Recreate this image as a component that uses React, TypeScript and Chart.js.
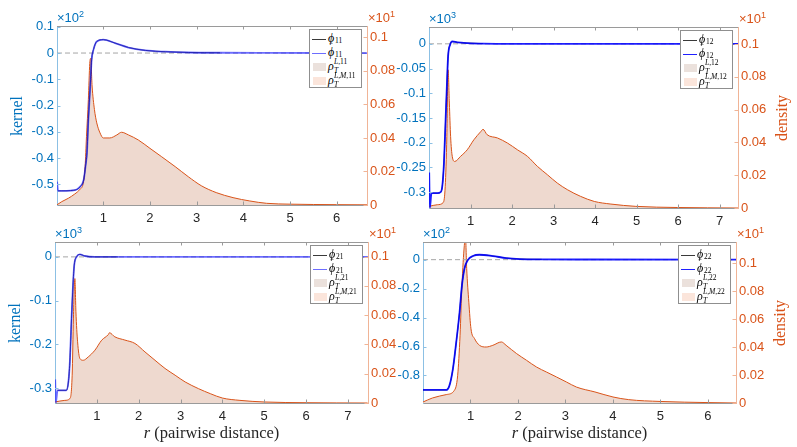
import React, { useEffect, useRef } from 'react';
import { Chart, registerables } from 'chart.js';

Chart.register(...registerables);

// ---------------- data ----------------
const xTicks11 = [1, 2, 3, 4, 5, 6];
const xTicks12 = [1, 2, 3, 4, 5, 6, 7];
const xTicks21 = [1, 2, 3, 4, 5, 6, 7];
const xTicks22 = [1, 2, 3, 4, 5, 6];
const yLTicks11 = [-0.5, -0.4, -0.3, -0.2, -0.1, 0, 0.1];
const yLTicks12 = [-0.3, -0.25, -0.2, -0.15, -0.1, -0.05, 0];
const yLTicks21 = [-0.3, -0.2, -0.1, 0];
const yLTicks22 = [-0.8, -0.6, -0.4, -0.2, 0];
const yRTicks = [0, 0.02, 0.04, 0.06, 0.08, 0.1];

// kernel phi_11 (x10^2)
const kR11 = [0.01, 0.03, 0.1, 0.3, 0.43, 0.5, 0.58, 0.62, 0.65, 0.68, 0.72, 0.75, 0.79, 0.86, 1.0, 1.25, 1.54, 1.9, 2.33, 2.83, 3.5, 4.5, 6.65];
const kV11 = [-0.49, -0.525, -0.525, -0.524, -0.52, -0.51, -0.483, -0.43, -0.38, -0.255, -0.127, -0.026, 0.013, 0.044, 0.051, 0.038, 0.021, 0.01, 0.005, 0.002, 0.001, 0.0005, 0];
// kernel phi_12 (x10^3)
const kR12 = [0.005, 0.02, 0.06, 0.2, 0.28, 0.32, 0.36, 0.4, 0.43, 0.46, 0.51, 0.56, 0.68, 0.92, 1.3, 2.0, 7.44];
const kV12 = [-0.26, -0.332, -0.302, -0.302, -0.3, -0.288, -0.241, -0.153, -0.086, -0.025, -0.0015, 0.0047, 0.003, 0.0015, 0.0005, 0, 0];
// kernel phi_21 (x10^3)
const kR21 = [0.005, 0.02, 0.06, 0.27, 0.32, 0.355, 0.395, 0.43, 0.46, 0.515, 0.595, 0.715, 0.95, 1.5, 7.47];
const kV21 = [-0.28, -0.334, -0.305, -0.305, -0.286, -0.24, -0.141, -0.065, -0.019, 0.0, 0.0055, 0.002, 0, 0, 0];
// kernel phi_22 (x10^2)
const kR22 = [0.0, 0.3, 0.49, 0.556, 0.63, 0.7, 0.77, 0.82, 0.873, 0.94, 1.05, 1.19, 1.47, 1.75, 2.04, 2.5, 3.5, 6.59];
const kV22 = [-0.9, -0.9, -0.9, -0.87, -0.754, -0.57, -0.363, -0.178, -0.062, -0.005, 0.025, 0.034, 0.025, 0.011, 0.004, 0.002, 0.001, 0];

// where the true kernel (black) is drawn
const blackStart = { '11': 0.03, '12': 0.06, '21': 0.06, '22': 0.0 };
const blackEnd = { '11': 3.6, '12': 1.33, '21': 1.51, '22': 3.13 };

// density rho_T (x10^1)
const dR11 = [0.0, 0.11, 0.25, 0.39, 0.5, 0.57, 0.61, 0.64, 0.68, 0.71, 0.73, 0.76, 0.81, 0.86, 0.93, 1.0, 1.14, 1.29, 1.39, 1.54, 1.75, 2.0, 2.25, 2.54, 2.82, 3.1, 3.42, 3.78, 4.14, 4.5, 5.0, 5.5, 6.0, 6.65];
const dV11 = [0.0, 0.002, 0.004, 0.0066, 0.0094, 0.013, 0.023, 0.041, 0.063, 0.0845, 0.0875, 0.071, 0.057, 0.049, 0.043, 0.04, 0.04, 0.0418, 0.0434, 0.0418, 0.0388, 0.0338, 0.0288, 0.0229, 0.0169, 0.0115, 0.0074, 0.0044, 0.0024, 0.001, 0.0005, 0.0003, 0.0002, 0.0001];
const dR12 = [0.0, 0.2, 0.345, 0.39, 0.43, 0.46, 0.49, 0.52, 0.56, 0.62, 0.76, 0.92, 1.08, 1.25, 1.3, 1.4, 1.65, 1.89, 2.13, 2.37, 2.61, 2.85, 3.09, 3.33, 3.65, 3.98, 4.38, 4.98, 5.98, 7.44];
const dV12 = [0.001, 0.002, 0.0034, 0.013, 0.0437, 0.0843, 0.064, 0.0437, 0.0315, 0.0284, 0.0315, 0.0355, 0.0416, 0.0467, 0.048, 0.0447, 0.0427, 0.0396, 0.0355, 0.0315, 0.0254, 0.0203, 0.0152, 0.0112, 0.0071, 0.004, 0.0024, 0.001, 0.0003, 0.0];
const dR21 = [0.0, 0.235, 0.355, 0.41, 0.44, 0.475, 0.5, 0.54, 0.595, 0.675, 0.795, 0.955, 1.115, 1.275, 1.3, 1.43, 1.67, 1.91, 2.15, 2.39, 2.63, 2.87, 3.11, 3.43, 3.71, 4.0, 4.42, 5.0, 6.0, 7.47];
const dV21 = [0.0007, 0.0018, 0.003, 0.019, 0.058, 0.085, 0.0623, 0.0418, 0.0304, 0.0292, 0.0315, 0.0361, 0.0429, 0.0468, 0.048, 0.0452, 0.043, 0.0407, 0.0349, 0.0292, 0.0236, 0.019, 0.0144, 0.0098, 0.0064, 0.0034, 0.0018, 0.0007, 0.0002, 0.0];
const dR22 = [0.0, 0.2, 0.49, 0.66, 0.73, 0.78, 0.82, 0.87, 0.895, 0.92, 0.965, 1.01, 1.085, 1.19, 1.33, 1.47, 1.65, 1.75, 1.97, 2.18, 2.39, 2.6, 2.81, 3.02, 3.23, 3.62, 4.0, 4.33, 5.0, 6.0, 6.59];
const dV22 = [0.0007, 0.0036, 0.006, 0.009, 0.0198, 0.0484, 0.084, 0.1126, 0.118, 0.096, 0.072, 0.053, 0.046, 0.0412, 0.04, 0.0412, 0.0436, 0.0412, 0.0353, 0.0305, 0.0257, 0.0221, 0.0186, 0.015, 0.0114, 0.0079, 0.0043, 0.0024, 0.0011, 0.0003, 0.0];

// ---------------- styles ----------------
const BLUE = '#0072BD';
const ORANGE = '#D95319';
const BLUE_AX = '#8cc0e4';
const ORANGE_AX = '#f0b496';
const GRAY_AX = '#9a9a9a';
const TXT = '#262626';
const FILL = '#eed9cf';
const SANS = '"Liberation Sans", Arial, Helvetica, sans-serif';
const SERIF = '"Liberation Serif", "Times New Roman", "DejaVu Serif", serif';

const ML = 60, MR = 60, MT = 30, MB = 45;

type Spec = {
  id: '11' | '12' | '21' | '22';
  rect: [number, number, number, number];
  xMin: number; xMax: number; yLMin: number; yLMax: number; yRMax: number;
  xTicks: number[]; yLTicks: number[];
  kR: number[]; kV: number[]; dR: number[]; dV: number[];
  lExp: string; blue: string; ylabel: 'kernel' | 'density'; xlabel: boolean;
};

const PANELS: Spec[] = [
  { id: '11', rect: [57, 26, 367, 205], xMin: 0.008, xMax: 6.65, yLMin: -0.579, yLMax: 0.103, yRMax: 0.1068,
    xTicks: xTicks11, yLTicks: yLTicks11, kR: kR11, kV: kV11, dR: dR11, dV: dV11, lExp: '2', blue: 'rgba(30,30,255,0.65)', ylabel: 'kernel', xlabel: false },
  { id: '12', rect: [429, 27, 738, 208], xMin: 0.0, xMax: 7.44, yLMin: -0.332, yLMax: 0.034, yRMax: 0.1104,
    xTicks: xTicks12, yLTicks: yLTicks12, kR: kR12, kV: kV12, dR: dR12, dV: dV12, lExp: '3', blue: 'rgba(0,0,255,0.88)', ylabel: 'density', xlabel: false },
  { id: '21', rect: [55, 242, 368, 403], xMin: 0.0, xMax: 7.48, yLMin: -0.334, yLMax: 0.034, yRMax: 0.110,
    xTicks: xTicks21, yLTicks: yLTicks21, kR: kR21, kV: kV21, dR: dR21, dV: dV21, lExp: '3', blue: 'rgba(30,30,255,0.65)', ylabel: 'kernel', xlabel: true },
  { id: '22', rect: [423, 242, 736, 403], xMin: 0.0, xMax: 6.59, yLMin: -0.99, yLMax: 0.122, yRMax: 0.115,
    xTicks: xTicks22, yLTicks: yLTicks22, kR: kR22, kV: kV22, dR: dR22, dV: dV22, lExp: '2', blue: 'rgba(0,0,255,0.88)', ylabel: 'density', xlabel: true },
];

const boxPlugin = {
  id: 'boxTicks',
  afterDraw(chart: any) {
    const { ctx, chartArea: a, scales } = chart;
    const TL = 3.5;
    ctx.save();
    ctx.lineWidth = 1;
    const line = (x1: number, y1: number, x2: number, y2: number) => {
      ctx.beginPath(); ctx.moveTo(x1, y1); ctx.lineTo(x2, y2); ctx.stroke();
    };
    ctx.strokeStyle = GRAY_AX;
    line(a.left, Math.round(a.top) + 0.5, a.right, Math.round(a.top) + 0.5);
    for (const t of scales.x.ticks) {
      const px = Math.round(scales.x.getPixelForValue(t.value)) + 0.5;
      line(px, a.bottom, px, a.bottom - TL);
      line(px, a.top, px, a.top + TL);
    }
    ctx.strokeStyle = BLUE_AX;
    for (const t of scales.yL.ticks) {
      const py = Math.round(scales.yL.getPixelForValue(t.value)) + 0.5;
      line(a.left, py, a.left + TL, py);
    }
    ctx.strokeStyle = ORANGE_AX;
    for (const t of scales.yR.ticks) {
      const py = Math.round(scales.yR.getPixelForValue(t.value)) + 0.5;
      line(a.right, py, a.right - TL, py);
    }
    ctx.restore();
  },
};

const tickFont = { family: SANS, size: 13 };

function PanelChart({ s }: { s: Spec }) {
  const ref = useRef<HTMLCanvasElement>(null);
  const [x1, y1, x2, y2] = s.rect;
  const W = x2 - x1 + ML + MR;
  const H = y2 - y1 + MT + MB;
  useEffect(() => {
    const bs = blackStart[s.id], be = blackEnd[s.id];
    const kernelPts = s.kR.map((r, i) => ({ x: r, y: s.kV[i] }));
    const blackPts = kernelPts.filter((p) => p.x >= bs && p.x <= be);
    const densPts = s.dR.map((r, i) => ({ x: r, y: s.dV[i] }));
    const chart = new Chart(ref.current as HTMLCanvasElement, {
      type: 'line',
      data: {
        datasets: [
          { data: kernelPts, yAxisID: 'yL', borderColor: s.blue, borderWidth: 1.8, pointRadius: 0, fill: false, cubicInterpolationMode: 'monotone', order: 0 } as any,
          { data: blackPts, yAxisID: 'yL', borderColor: '#000000', borderWidth: 0.8, pointRadius: 0, fill: false, cubicInterpolationMode: 'monotone', order: 1 } as any,
          { data: [{ x: s.xMin, y: 0 }, { x: s.xMax, y: 0 }], yAxisID: 'yL', borderColor: '#a6a6a6', borderWidth: 1, borderDash: [5, 3], pointRadius: 0, fill: false, order: 2 } as any,
          { data: densPts, yAxisID: 'yR', borderColor: ORANGE, backgroundColor: FILL, borderWidth: 1, pointRadius: 0, fill: 'origin', cubicInterpolationMode: 'monotone', order: 3 } as any,
        ],
      },
      options: {
        animation: false,
        responsive: false,
        events: [],
        layout: { padding: { top: MT, left: 0, right: 0, bottom: 0 } },
        plugins: { legend: { display: false }, tooltip: { enabled: false } },
        scales: {
          x: {
            type: 'linear', position: 'bottom', min: s.xMin, max: s.xMax, z: 1,
            afterBuildTicks: (sc: any) => { sc.ticks = s.xTicks.map((v) => ({ value: v })); },
            afterFit: (sc: any) => { sc.height = MB; },
            grid: { display: false, drawTicks: false },
            border: { display: true, color: GRAY_AX, width: 1 },
            ticks: { color: TXT, font: tickFont, padding: 6, maxRotation: 0, autoSkip: false, callback: (v: any) => String(v) },
          },
          yL: {
            type: 'linear', position: 'left', min: s.yLMin, max: s.yLMax, z: 1,
            afterBuildTicks: (sc: any) => { sc.ticks = s.yLTicks.map((v) => ({ value: v })); },
            afterFit: (sc: any) => { sc.width = ML; },
            grid: { display: false, drawTicks: false },
            border: { display: true, color: BLUE_AX, width: 1 },
            ticks: { color: BLUE, font: tickFont, padding: 3, autoSkip: false, callback: (v: any) => String(v) },
          },
          yR: {
            type: 'linear', position: 'right', min: 0, max: s.yRMax, z: 1,
            afterBuildTicks: (sc: any) => { sc.ticks = yRTicks.map((v) => ({ value: v })); },
            afterFit: (sc: any) => { sc.width = MR; },
            grid: { display: false, drawTicks: false },
            border: { display: true, color: ORANGE_AX, width: 1 },
            ticks: { color: ORANGE, font: tickFont, padding: 3, autoSkip: false, callback: (v: any) => String(v) },
          },
        },
      } as any,
      plugins: [boxPlugin],
    });
    return () => chart.destroy();
  }, []);
  return (
    <canvas
      ref={ref}
      width={W}
      height={H}
      style={{ position: 'absolute', left: x1 - ML, top: y1 - MT, width: W, height: H }}
    />
  );
}

function Legend({ s }: { s: Spec }) {
  const [, y1, x2] = s.rect;
  const w = 53, h = 59;
  const rc = [9, 23, 37, 51];
  const row = (c: number): React.CSSProperties => ({ position: 'absolute', left: 18, top: c - 8, height: 14, lineHeight: '14px', fontFamily: SERIF, fontSize: 12, color: '#000', whiteSpace: 'nowrap' });
  const small: React.CSSProperties = { position: 'absolute', fontSize: 7.5, lineHeight: '8px', fontStyle: 'normal', whiteSpace: 'nowrap' };
  return (
    <div style={{ position: 'absolute', left: x2 - 5 - w, top: y1 + 3, width: w, height: h, border: '1px solid #8f8f8f', background: '#fff', boxSizing: 'border-box' }}>
      <div style={{ position: 'absolute', left: 2, top: rc[0] - 0.5, width: 14, borderTop: '1px solid #3a3a3a' }} />
      <div style={row(rc[0])}>
        <i>ϕ</i>
        <span style={{ ...small, left: 7, top: 6 }}>{s.id}</span>
      </div>
      <div style={{ position: 'absolute', left: 2, top: rc[1] - 0.5, width: 14, borderTop: '1.5px solid ' + s.blue }} />
      <div style={row(rc[1])}>
        <i>ϕ</i>
        <span style={{ ...small, left: 1.5, top: -3, fontSize: 9, lineHeight: '9px' }}>ˆ</span>
        <span style={{ ...small, left: 7, top: 6 }}>{s.id}</span>
      </div>
      <div style={{ position: 'absolute', left: 3, top: rc[2] - 4, width: 13, height: 8, background: '#ebe1dc' }} />
      <div style={row(rc[2])}>
        <i>ρ</i>
        <span style={{ ...small, left: 6, top: -1 }}><i>L</i>,{s.id}</span>
        <span style={{ ...small, left: 6, top: 8 }}><i>T</i></span>
      </div>
      <div style={{ position: 'absolute', left: 3, top: rc[3] - 4, width: 13, height: 8, background: '#fbe5db' }} />
      <div style={row(rc[3])}>
        <i>ρ</i>
        <span style={{ ...small, left: 6, top: -1 }}><i>L</i>,<i>M</i>,{s.id}</span>
        <span style={{ ...small, left: 6, top: 8 }}><i>T</i></span>
      </div>
    </div>
  );
}

function Overlay({ s }: { s: Spec }) {
  const [x1, y1, x2, y2] = s.rect;
  const mid = (y1 + y2) / 2;
  const exp: React.CSSProperties = { position: 'absolute', fontFamily: SANS, fontSize: 13, lineHeight: '13px', whiteSpace: 'nowrap' };
  const sup: React.CSSProperties = { fontSize: 9, position: 'relative', top: -5 };
  return (
    <>
      <div style={{ ...exp, left: x1, top: y1 - 15, color: BLUE }}>×10<span style={sup}>{s.lExp}</span></div>
      <div style={{ ...exp, left: x2 + 1, top: y1 - 15, color: ORANGE }}>×10<span style={sup}>1</span></div>
      {s.ylabel === 'kernel' ? (
        <div style={{ position: 'absolute', left: x1 - 40, top: mid, transform: 'translate(-50%,-50%) rotate(-90deg)', fontFamily: SERIF, fontSize: 16, color: BLUE, whiteSpace: 'nowrap' }}>kernel</div>
      ) : (
        <div style={{ position: 'absolute', left: x2 + 44, top: mid, transform: 'translate(-50%,-50%) rotate(-90deg)', fontFamily: SERIF, fontSize: 16, color: ORANGE, whiteSpace: 'nowrap' }}>density</div>
      )}
      {s.xlabel && (
        <div style={{ position: 'absolute', left: (x1 + x2) / 2, top: y2 + 30, transform: 'translate(-50%,-50%)', fontFamily: SERIF, fontSize: 16.5, color: TXT, whiteSpace: 'nowrap' }}><i>r</i> (pairwise distance)</div>
      )}
      <Legend s={s} />
    </>
  );
}

export default function App() {
  return (
    <div style={{ position: 'absolute', left: 0, top: 0, width: 797, height: 447, overflow: 'hidden', background: '#ffffff' }}>
      {PANELS.map((s) => <PanelChart key={'c' + s.id} s={s} />)}
      {PANELS.map((s) => <Overlay key={'o' + s.id} s={s} />)}
    </div>
  );
}
